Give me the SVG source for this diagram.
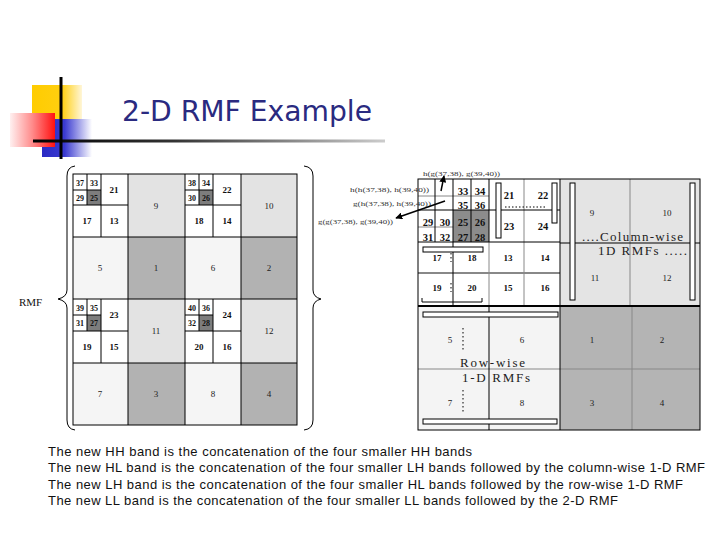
<svg xmlns="http://www.w3.org/2000/svg" width="720" height="540" viewBox="0 0 720 540">
<defs>
<linearGradient id="gY" x1="0" y1="0" x2="1" y2="0"><stop offset="0" stop-color="#ffcc00"/><stop offset="0.6" stop-color="#ffcf10"/><stop offset="1" stop-color="#fff6d8"/></linearGradient>
<linearGradient id="gB" x1="0" y1="0" x2="1" y2="0"><stop offset="0" stop-color="#2a2ac4"/><stop offset="0.45" stop-color="#3a3ad0"/><stop offset="1" stop-color="#ffffff"/></linearGradient>
<linearGradient id="gR" x1="0" y1="0" x2="1" y2="0"><stop offset="0" stop-color="#fff0f0"/><stop offset="0.5" stop-color="#ff8a8a"/><stop offset="1" stop-color="#ff1010"/></linearGradient>
<linearGradient id="gL" x1="0" y1="0" x2="1" y2="0"><stop offset="0" stop-color="#000000"/><stop offset="0.4" stop-color="#333333"/><stop offset="1" stop-color="#cccccc"/></linearGradient>
<marker id="ah" viewBox="0 0 10 10" refX="9" refY="5" markerWidth="7" markerHeight="7" orient="auto" markerUnits="userSpaceOnUse"><path d="M0,0 L10,5 L0,10 z" fill="#000"/></marker>
</defs>
<style>
.ln{stroke:#000;stroke-width:1;fill:none}
.lg{stroke:#888;stroke-width:1;fill:none}
.bar{fill:#fff;stroke:#000;stroke-width:1}
.n{font-family:"Liberation Serif",serif;font-size:9px;font-weight:bold;text-anchor:middle;dominant-baseline:central;fill:#111}
.s{font-family:"Liberation Serif",serif;font-size:8px;font-weight:bold;text-anchor:middle;dominant-baseline:central;fill:#111}
.b{font-family:"Liberation Serif",serif;font-size:9px;text-anchor:middle;dominant-baseline:central;fill:#222}
.r{font-family:"Liberation Serif",serif;font-size:10.5px;font-weight:bold;text-anchor:middle;dominant-baseline:central;fill:#111}
.lab{font-family:"Liberation Serif",serif;font-size:7px;fill:#333}
.big{font-family:"Liberation Serif",serif;font-size:13px;fill:#222}
.body{font-family:"Liberation Sans",Arial,sans-serif;font-size:13px;fill:#111}
</style>
<rect width="720" height="540" fill="#fff"/>

<g id="title">
<rect x="32" y="85" width="50" height="36" fill="url(#gY)"/>
<rect x="42" y="119" width="50" height="38" fill="url(#gB)"/>
<rect x="10" y="113" width="45" height="34" fill="url(#gR)"/>
<rect x="33" y="139.5" width="352" height="3" fill="url(#gL)"/>
<line x1="61" y1="77" x2="61" y2="159" stroke="#000" stroke-width="3"/>
<text x="122" y="121" font-family="DejaVu Sans, sans-serif" font-size="29" fill="#2a2a80" textLength="250" lengthAdjust="spacingAndGlyphs">2-D RMF Example</text>
</g>

<g id="left-grid">
<rect x="73" y="174" width="224" height="251" fill="#fff"/>
<g fill="#e3e3e3"><rect x="128" y="174" width="57" height="63"/><rect x="241" y="174" width="56" height="63"/><rect x="128" y="299" width="57" height="64"/><rect x="241" y="299" width="56" height="64"/></g>
<g fill="#f5f5f5"><rect x="73" y="237" width="55" height="62"/><rect x="185" y="237" width="56" height="62"/><rect x="73" y="363" width="55" height="62"/><rect x="185" y="363" width="56" height="62"/></g>
<g fill="#b2b2b2"><rect x="128" y="237" width="57" height="62"/><rect x="241" y="237" width="56" height="62"/><rect x="128" y="363" width="57" height="62"/><rect x="241" y="363" width="56" height="62"/></g>
<g fill="#7d7d7d"><rect x="87" y="190" width="14" height="15"/><rect x="199" y="190" width="14" height="15"/><rect x="87" y="315" width="14" height="16"/><rect x="199" y="315" width="14" height="16"/></g>
<g class="ln">
<rect x="73" y="174" width="224" height="251"/>
<path d="M128 174V425M185 174V425M241 174V425M73 237H297M73 299H297M73 363H297"/>
<path d="M101 174V237M213 174V237M101 299V363M213 299V363M73 205H128M185 205H241M73 331H128M185 331H241"/>
<path d="M87 174V205M199 174V205M87 299V331M199 299V331M73 190H101M185 190H213M73 315H101M185 315H213"/>
</g>
<text class="s" x="80" y="183">37</text><text class="s" x="94" y="183">33</text><text class="s" x="80" y="198">29</text><text class="s" x="94" y="198">25</text>
<text class="n" x="114" y="190">21</text><text class="n" x="87" y="221">17</text><text class="n" x="114" y="221">13</text>
<text class="b" x="156" y="206">9</text><text class="b" x="100" y="268">5</text><text class="b" x="156" y="268">1</text>
<text class="s" x="192" y="183">38</text><text class="s" x="206" y="183">34</text><text class="s" x="192" y="198">30</text><text class="s" x="206" y="198">26</text>
<text class="n" x="227" y="190">22</text><text class="n" x="199" y="221">18</text><text class="n" x="227" y="221">14</text>
<text class="b" x="269" y="206">10</text><text class="b" x="213" y="268">6</text><text class="b" x="269" y="268">2</text>
<text class="s" x="80" y="308">39</text><text class="s" x="94" y="308">35</text><text class="s" x="80" y="323">31</text><text class="s" x="94" y="323">27</text>
<text class="n" x="114" y="315">23</text><text class="n" x="87" y="347">19</text><text class="n" x="114" y="347">15</text>
<text class="b" x="156" y="331">11</text><text class="b" x="100" y="394">7</text><text class="b" x="156" y="394">3</text>
<text class="s" x="192" y="308">40</text><text class="s" x="206" y="308">36</text><text class="s" x="192" y="323">32</text><text class="s" x="206" y="323">28</text>
<text class="n" x="227" y="315">24</text><text class="n" x="199" y="347">20</text><text class="n" x="227" y="347">16</text>
<text class="b" x="269" y="331">12</text><text class="b" x="213" y="394">8</text><text class="b" x="269" y="394">4</text>
</g>

<g id="braces" class="ln">
<path d="M75 166Q67 167 67 176L67 290Q67 297 58 299Q67 301 67 308L67 420Q67 429 75 430"/>
<path d="M304 166Q313 167 313 176L313 290Q313 297 321 299Q313 301 313 308L313 420Q313 429 304 430"/>
</g>
<text id="rmf" x="19" y="306" font-family="Liberation Serif, serif" font-size="11" fill="#111">RMF</text>

<g id="right-grid">
<rect x="418" y="179" width="142" height="127" fill="#fff"/>
<rect x="453" y="210" width="36" height="32" fill="#8c8c8c"/>
<rect x="560" y="179" width="140" height="127" fill="#e4e4e4"/>
<rect x="418" y="306" width="142" height="124" fill="#f4f4f4"/>
<rect x="560" y="306" width="140" height="124" fill="#b4b4b4"/>
<g class="lg">
<path d="M418 227H489M489 242V306M524 179V306M630 179V306M632 306V430M418 369H700M418 196H489"/>
<path d="M418 273H560" stroke-width="2"/>
</g>
<g class="ln">
<rect x="418" y="179" width="282" height="251"/>
<path d="M418 210H560M418 242H560M435 179V242M453 179V306M471 179V242M489 179V242M560 179V430M560 243H700M489 306V430"/>
<path d="M418 306H700" stroke-width="2"/>
<path d="M505 207H546" stroke-dasharray="1.5 2"/>
<path d="M451 253V262M451 283V292M463 328V350M463 390V414" stroke-dasharray="1.5 2.5"/>
<path d="M422 298V302H482V298"/>
</g>
<g class="bar">
<rect x="496" y="183" width="5" height="55"/>
<rect x="552" y="183" width="5" height="40"/>
<rect x="423" y="247" width="60" height="5"/>
<rect x="423" y="312" width="135" height="5"/>
<rect x="423" y="419" width="134" height="5"/>
<rect x="570" y="183" width="5" height="117"/>
<rect x="690" y="183" width="5" height="117"/>
</g>
<text class="r" x="463" y="191">33</text><text class="r" x="480" y="191">34</text><text class="r" x="463" y="205">35</text><text class="r" x="480" y="205">36</text>
<text class="r" x="428" y="222">29</text><text class="r" x="445" y="222">30</text><text class="r" x="463" y="222">25</text><text class="r" x="480" y="222">26</text>
<text class="r" x="428" y="237">31</text><text class="r" x="445" y="237">32</text><text class="r" x="463" y="237">27</text><text class="r" x="480" y="237">28</text>
<text class="r" x="509" y="195">21</text><text class="r" x="543" y="195">22</text><text class="r" x="509" y="226">23</text><text class="r" x="543" y="226">24</text>
<text class="n" x="437" y="258">17</text><text class="n" x="472" y="258">18</text><text class="n" x="508" y="258">13</text><text class="n" x="545" y="258">14</text>
<text class="n" x="437" y="288">19</text><text class="n" x="472" y="288">20</text><text class="n" x="508" y="288">15</text><text class="n" x="545" y="288">16</text>
<text class="b" x="592" y="213">9</text><text class="b" x="667" y="213">10</text><text class="b" x="595" y="278">11</text><text class="b" x="667" y="278">12</text>
<text class="b" x="450" y="340">5</text><text class="b" x="522" y="340">6</text><text class="b" x="450" y="403">7</text><text class="b" x="522" y="403">8</text>
<text class="b" x="592" y="340">1</text><text class="b" x="662" y="340">2</text><text class="b" x="592" y="403">3</text><text class="b" x="662" y="403">4</text>
<text class="big" x="582" y="241" textLength="101" lengthAdjust="spacing">....Column-wise</text>
<text class="big" x="598" y="255" textLength="89" lengthAdjust="spacing">1D RMFs .....</text>
<text class="big" x="460" y="367" textLength="65" lengthAdjust="spacing">Row-wise</text>
<text class="big" x="462" y="382" textLength="68" lengthAdjust="spacing">1-D RMFs</text>
</g>

<g id="labels">
<text class="lab" x="423" y="176" textLength="77" lengthAdjust="spacingAndGlyphs">h(g(37,38), g(39,40))</text>
<text class="lab" x="350" y="191.5" textLength="79" lengthAdjust="spacingAndGlyphs">h(h(37,38), h(39,40))</text>
<text class="lab" x="353" y="205.5" textLength="78" lengthAdjust="spacingAndGlyphs">g(h(37,38), h(39,40))</text>
<text class="lab" x="318" y="223.5" textLength="75" lengthAdjust="spacingAndGlyphs">g(g(37,38), g(39,40))</text>
</g>

<g id="connectors" stroke="#000" stroke-width="1.5" fill="none">
<line x1="441" y1="191" x2="444" y2="176" marker-end="url(#ah)"/>
<line x1="445" y1="201" x2="396" y2="218" marker-end="url(#ah)"/>
</g>

<g id="caption" class="body">
<text x="48" y="456" textLength="424" lengthAdjust="spacing">The new HH band is the concatenation of the four smaller HH bands</text>
<text x="48" y="472" textLength="657" lengthAdjust="spacing">The new HL band is the concatenation of the four smaller LH bands followed by the column-wise 1-D RMF</text>
<text x="48" y="489" textLength="635" lengthAdjust="spacing">The new LH band is the concatenation of the four smaller HL bands followed by the row-wise 1-D RMF</text>
<text x="48" y="505" textLength="570" lengthAdjust="spacing">The new LL band is the concatenation of the four smaller LL bands followed by the 2-D RMF</text>
</g>
</svg>
